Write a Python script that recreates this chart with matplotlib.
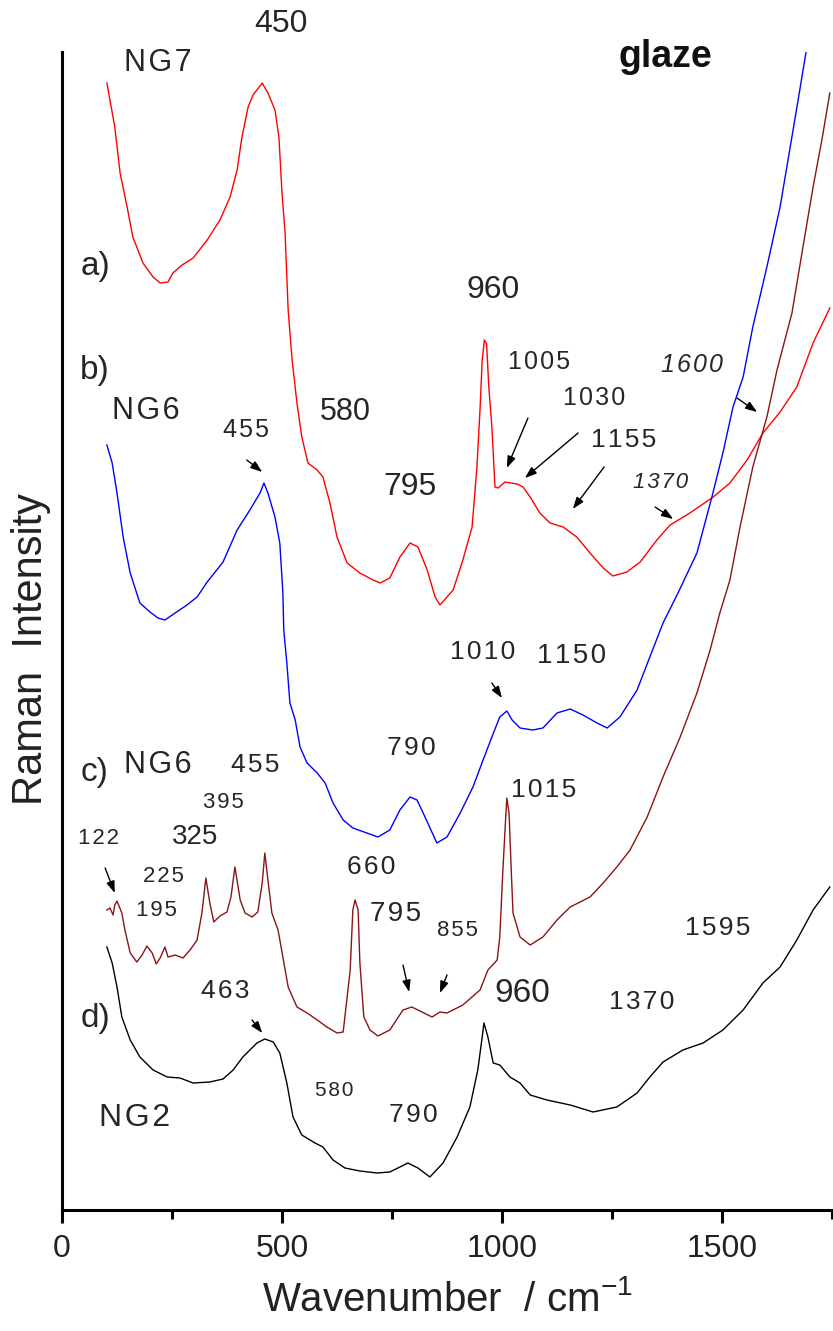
import matplotlib
matplotlib.use("Agg")
import matplotlib.pyplot as plt
from matplotlib.ticker import MultipleLocator

plt.rcParams['font.family'] = ['Liberation Sans', 'DejaVu Sans']
plt.rcParams['mathtext.fontset'] = 'custom'
plt.rcParams['mathtext.rm'] = 'Liberation Sans'
plt.rcParams['mathtext.it'] = 'Liberation Sans:italic'

# ---- spectra (wavenumber / cm-1, intensity in arbitrary units, offset per trace) ----
ng7_x = [102, 120, 132, 148, 161, 184, 207, 223, 241, 252, 273, 298, 330, 359, 382, 398, 409, 423, 434,
         455, 468, 484, 493, 500, 507, 514, 523, 534, 545, 559, 580, 593, 609, 625, 648, 677, 707, 723,
         745, 768, 791, 809, 830, 848, 859, 875, 889, 911, 932, 943, 950, 955, 960, 965, 970, 977, 984,
         991, 1007, 1034, 1048, 1064, 1086, 1109, 1139, 1170, 1200, 1230, 1252, 1284, 1314, 1352, 1382,
         1427, 1480, 1518, 1557, 1593, 1632, 1670, 1707, 1745]
ng7_y = [1127, 1083, 1037, 1003, 973, 947, 933, 927, 928, 937, 945, 952, 970, 990, 1013, 1040, 1073, 1103,
         1115, 1127, 1117, 1100, 1073, 1017, 977, 900, 850, 807, 773, 747, 740, 733, 707, 673, 647, 637,
         630, 627, 632, 653, 667, 663, 640, 613, 605, 613, 620, 650, 683, 743, 800, 850, 870, 866, 823,
         783, 723, 722, 728, 726, 723, 713, 697, 687, 683, 673, 657, 642, 634, 638, 648, 670, 685, 697,
         713, 727, 750, 777, 798, 823, 867, 902]

ng6b_x = [102, 114, 125, 139, 155, 177, 200, 218, 234, 257, 284, 307, 330, 366, 398, 427, 450, 459, 468,
          484, 495, 502, 504, 511, 518, 530, 541, 557, 580, 598, 616, 639, 661, 693, 718, 745, 768, 791,
          807, 825, 852, 875, 905, 934, 957, 977, 995, 1011, 1023, 1041, 1070, 1093, 1125, 1155, 1184,
          1216, 1239, 1268, 1307, 1336, 1366, 1400, 1443, 1477, 1502, 1525, 1548, 1570, 1602, 1632, 1655,
          1673, 1691]
ng6b_y = [765, 747, 717, 673, 637, 607, 598, 592, 590, 597, 605, 613, 628, 648, 680, 700, 717, 727, 717,
          693, 667, 617, 580, 547, 507, 490, 463, 447, 437, 427, 407, 390, 382, 377, 373, 380, 400, 413,
          410, 393, 367, 373, 397, 423, 450, 473, 493, 499, 490, 482, 480, 482, 497, 501, 495, 487, 482,
          493, 520, 553, 587, 617, 657, 713, 757, 803, 833, 883, 943, 1003, 1063, 1110, 1158]

ng6c_x = [102, 109, 116, 120, 125, 136, 143, 155, 170, 182, 193, 205, 214, 223, 234, 241, 257, 275, 291,
          307, 318, 327, 336, 345, 359, 375, 384, 393, 405, 416, 432, 445, 455, 461, 468, 477, 491, 502,
          514, 534, 557, 580, 602, 625, 639, 655, 661, 666, 673, 677, 686, 700, 718, 745, 775, 795, 818,
          841, 859, 875, 911, 950, 968, 989, 995, 1002, 1009, 1011, 1016, 1021, 1025, 1041, 1064, 1093,
          1125, 1155, 1200, 1230, 1261, 1291, 1330, 1366, 1405, 1443, 1473, 1495, 1518, 1541, 1570, 1602,
          1625, 1659, 1684, 1707, 1727, 1745]
ng6c_y = [300, 302, 295, 305, 309, 297, 280, 257, 248, 255, 264, 257, 246, 252, 263, 253, 255, 252, 260,
          270, 297, 332, 307, 288, 294, 298, 313, 343, 310, 297, 293, 298, 327, 357, 330, 297, 280, 253,
          223, 203, 197, 190, 183, 177, 178, 240, 300, 310, 300, 247, 193, 180, 174, 180, 200, 203, 198,
          193, 198, 197, 205, 220, 240, 250, 273, 340, 397, 412, 397, 340, 297, 273, 265, 273, 290, 303,
          313, 327, 343, 360, 393, 433, 473, 517, 560, 597, 630, 683, 743, 793, 840, 897, 963, 1023, 1070,
          1117]

ng2_x = [102, 114, 125, 136, 155, 177, 207, 239, 268, 298, 336, 366, 389, 411, 443, 461, 480, 495, 511,
         525, 545, 575, 593, 616, 643, 677, 716, 745, 768, 786, 809, 836, 866, 898, 927, 945, 955, 959,
         968, 980, 995, 1018, 1041, 1064, 1102, 1155, 1207, 1261, 1307, 1336, 1366, 1411, 1457, 1502,
         1548, 1593, 1632, 1670, 1707, 1745]
ng2_y = [263, 247, 223, 193, 170, 153, 140, 133, 132, 127, 128, 131, 140, 153, 167, 171, 168, 157, 127,
         93, 75, 67, 63, 50, 42, 39, 37, 38, 43, 47, 42, 33, 47, 73, 103, 140, 173, 187, 173, 147, 145,
         133, 127, 115, 110, 105, 98, 103, 117, 133, 148, 160, 167, 180, 200, 227, 243, 270, 300, 323]

# ---- peak labels: (text, x, y, fontsize, style, letter-spaced) ----
peak_labels = [
    ("450", 498, 1186, 23, "normal", False), ("NG7", 218, 1147, 22, "normal", True),
    ("a)", 75, 943, 24, "normal", False), ("b)", 75, 840, 24, "normal", False),
    ("NG6", 191, 799, 22, "normal", True), ("455", 418, 780, 18, "normal", True),
    ("580", 643, 798, 22, "normal", False), ("795", 791, 723, 23, "normal", False),
    ("960", 980, 920, 23, "normal", False), ("1005", 1084, 848, 18, "normal", True),
    ("1030", 1209, 812, 18, "normal", True), ("1155", 1277, 770, 19, "normal", True),
    ("1600", 1432, 845, 18, "italic", True), ("1370", 1361, 728, 16, "italic", True),
    ("c)", 75, 437, 24, "normal", False), ("NG6", 218, 445, 22, "normal", True),
    ("455", 439, 445, 19, "normal", True), ("790", 795, 462, 19, "normal", True),
    ("395", 366, 408, 16, "normal", True), ("325", 302, 373, 20, "normal", False),
    ("122", 84, 372, 16, "normal", True), ("225", 230, 333, 16, "normal", True),
    ("195", 214, 300, 16, "normal", True), ("660", 702, 343, 19, "normal", True),
    ("795", 759, 296, 20, "normal", True), ("855", 898, 280, 16, "normal", True),
    ("1010", 955, 558, 19, "normal", True), ("1150", 1159, 554, 20, "normal", True),
    ("1015", 1095, 420, 19, "normal", True), ("d)", 75, 192, 24, "normal", False),
    ("463", 370, 219, 19, "normal", True), ("580", 618, 120, 15, "normal", True),
    ("790", 798, 95, 19, "normal", True), ("NG2", 164, 92, 23, "normal", True),
    ("960", 1045, 216, 24, "normal", False), ("1370", 1318, 208, 19, "normal", True),
    ("1595", 1491, 282, 19, "normal", True),
]

# ---- arrows pointing at bands: (tail_x, tail_y, head_x, head_y) ----
band_arrows = [
    (420, 750, 455, 738), (1059, 792, 1011, 742), (1173, 777, 1052, 732),
    (1232, 743, 1161, 701), (1348, 703, 1389, 691), (1534, 812, 1580, 798),
    (98, 342, 120, 317), (775, 245, 789, 218), (875, 235, 859, 217),
    (977, 527, 1000, 512), (432, 190, 455, 177),
]

HAIR = "\u200a"

fig = plt.figure(figsize=(8.33, 13.31), dpi=100)
ax = fig.add_axes([62 / 833, 121 / 1331, 770 / 833, 1158 / 1331])

ax.plot(ng7_x, ng7_y, color="#ff0000", lw=1.0)
ax.plot(ng6b_x, ng6b_y, color="#0000ff", lw=1.0)
ax.plot(ng6c_x, ng6c_y, color="#8b1414", lw=1.0)
ax.plot(ng2_x, ng2_y, color="#000000", lw=1.0)

for txt, x, y, fs, st, spaced in peak_labels:
    shown = HAIR.join(txt) if spaced else txt
    ax.text(x, y, shown, fontsize=fs, style=st, ha="center", va="center",
            color="#262626", clip_on=False)

ax.text(1372, 1153, "glaze", fontsize=27, fontweight="bold", ha="center",
        va="center", color="#111111", clip_on=False)

for tx, ty, hx, hy in band_arrows:
    ax.annotate("", xy=(hx, hy), xytext=(tx, ty),
                arrowprops=dict(arrowstyle="-|>,head_length=0.7,head_width=0.25",
                                color="black", lw=1.0, shrinkA=0, shrinkB=0))

ax.set_xlim(0, 1750)
ax.set_ylim(0, 1158)
ax.spines["top"].set_visible(False)
ax.spines["right"].set_visible(False)
ax.spines["left"].set_linewidth(2.2)
ax.spines["bottom"].set_linewidth(2.2)
ax.set_yticks([])
ax.xaxis.set_major_locator(MultipleLocator(500))
ax.xaxis.set_minor_locator(MultipleLocator(250))
ax.tick_params(axis="x", which="major", direction="out", length=9.5, width=2.2,
               labelsize=23, pad=8, colors="black")
ax.tick_params(axis="x", which="minor", direction="out", length=6.5, width=2.2)
for lbl in ax.get_xticklabels():
    lbl.set_color("#222222")

ax.set_xlabel("Wavenumber  / cm$^{-1}$", fontsize=29, va="center", color="#222222")
ax.xaxis.set_label_coords(0.5, -0.0777)
ax.set_ylabel("Raman  Intensity", fontsize=30, va="center", color="#222222")
ax.yaxis.set_label_coords(-0.040, 0.4845)

fig.savefig("out.png", dpi=100)
